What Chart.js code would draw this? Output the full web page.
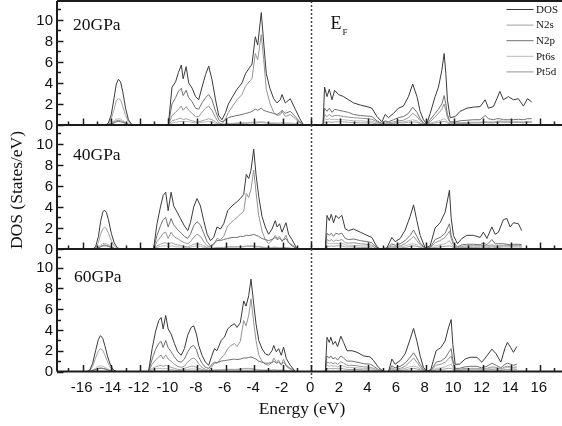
<!DOCTYPE html>
<html>
<head>
<meta charset="utf-8">
<title>PtN2 DOS</title>
<script src="https://cdn.jsdelivr.net/npm/chart.js@4/dist/chart.umd.min.js"></script>
<style>
  body { margin: 0; background: #fff; }
  #wrap { position: relative; width: 562px; height: 426px; }
  #wrap canvas { position: absolute; left: 0; top: 0; }
</style>
</head>
<body>
<div id="wrap">
  <canvas id="p20" width="562" height="426"></canvas>
  <canvas id="p40" width="562" height="426"></canvas>
  <canvas id="p60" width="562" height="426"></canvas>
</div>
<script>
const seriesNames = ['DOS', 'N2s', 'N2p', 'Pt6s', 'Pt5d'];
const seriesColors = ['#3a3a3a', '#a2a2a2', '#707070', '#b8b8b8', '#939393'];
const xTicks = [-16, -14, -12, -10, -8, -6, -4, -2, 0, 2, 4, 6, 8, 10, 12, 14, 16];
const yTicks = [0, 2, 4, 6, 8, 10];

// ---- 20 GPa ----
const e20 = [
  -14.4, -14.2, -14.0, -13.8, -13.65, -13.5, -13.35, -13.2, -13.0, -12.8, -12.6, -12.4,
  -10.1, -10.0, -9.75, -9.5, -9.3, -9.1, -8.97, -8.76, -8.58, -8.34,
  -8.1, -7.88, -7.65, -7.4, -7.18, -6.95, -6.7, -6.48, -6.25, -6.0,
  -5.8, -5.55, -5.2, -4.85, -4.6, -4.3, -4.15, -3.92, -3.75, -3.5,
  -3.33, -3.15, -2.9, -2.63, -2.4, -2.17, -2.05, -1.82, -1.47, -1.12,
  -0.8, -0.54,
  0.82, 0.93, 1.1, 1.26, 1.45, 1.63, 1.91, 2.26, 2.61, 2.96,
  3.43, 3.9, 4.24, 4.6, 4.94, 5.17, 5.4, 5.75, 6.1, 6.45,
  6.8, 7.1, 7.4, 7.62, 7.85, 8.09, 8.32, 8.67, 8.9, 9.14,
  9.3, 9.42, 9.53, 9.72, 10.07, 10.42, 10.9, 11.35, 11.82, 12.17,
  12.4, 12.75, 12.99, 13.2, 13.45, 13.8, 14.15, 14.5, 14.85, 15.13,
  15.43
];
const dos20 = [
  0, 0.2, 1.0, 2.6, 3.9, 4.35, 4.1, 3.2, 1.6, 0.5, 0.1, 0,
  0, 0.1, 3.6, 4.1, 5.0, 5.7, 4.4, 5.55, 4.0, 3.5,
  2.7, 2.4, 3.6, 4.8, 5.6, 4.3, 2.4, 0.9, 0.5, 1.2,
  2.0, 2.6, 3.4, 4.0, 4.9, 5.5, 5.8, 8.4, 7.6, 10.7,
  7.8, 4.9, 3.5, 2.5, 2.1, 2.4, 2.9, 2.1, 2.5, 1.5,
  0.6, 0,
  0, 3.6, 2.7, 3.4, 2.4, 3.3, 2.9, 2.7, 2.4, 2.1,
  1.9, 1.75, 1.6, 0.8, 0.3, 1.0, 0.7, 1.1, 1.6, 1.8,
  2.7, 3.9, 2.7, 1.3, 0.5, 0.1, 1.1, 2.7, 3.6, 5.2,
  6.8, 4.9, 2.4, 0.7, 0.8, 1.3, 1.6, 1.7, 1.75, 2.4,
  1.6, 1.75, 2.5, 3.2, 2.4, 2.7, 2.4, 2.5, 1.8, 2.5,
  2.2
];
const n2s20 = [
  0, 0.1, 0.6, 1.5, 2.3, 2.5, 2.4, 1.8, 0.9, 0.3, 0.05, 0,
  0, 0, 0.4, 0.5, 0.6, 0.65, 0.5, 0.6, 0.5, 0.4,
  0.3, 0.3, 0.4, 0.5, 0.6, 0.5, 0.3, 0.1, 0.05, 0.1,
  0.1, 0.1, 0.15, 0.15, 0.15, 0.2, 0.2, 0.2, 0.2, 0.25,
  0.2, 0.2, 0.15, 0.15, 0.1, 0.1, 0.1, 0.1, 0.1, 0.05,
  0.05, 0,
  0, 0.3, 0.25, 0.3, 0.25, 0.3, 0.3, 0.3, 0.25, 0.25,
  0.2, 0.2, 0.2, 0.1, 0.05, 0.1, 0.1, 0.15, 0.2, 0.2,
  0.25, 0.3, 0.25, 0.15, 0.05, 0, 0.1, 0.2, 0.25, 0.3,
  0.35, 0.3, 0.2, 0.1, 0.1, 0.15, 0.15, 0.2, 0.2, 0.25,
  0.2, 0.2, 0.25, 0.3, 0.25, 0.25, 0.25, 0.25, 0.2, 0.25,
  0.25
];
const n2p20 = [
  0, 0.05, 0.1, 0.2, 0.3, 0.35, 0.3, 0.25, 0.15, 0.05, 0, 0,
  0, 0.05, 2.0, 2.6, 3.2, 3.5, 2.8, 3.3, 2.6, 2.2,
  1.6, 1.5, 2.1, 2.6, 2.9, 2.4, 1.3, 0.5, 0.3, 0.5,
  0.7, 0.8, 0.9, 1.0, 1.1, 1.2, 1.3, 1.5, 1.4, 1.6,
  1.4, 1.3, 1.2, 1.1, 1.0, 1.2, 1.4, 1.1, 1.3, 0.8,
  0.3, 0,
  0, 1.6, 1.3, 1.6, 1.2, 1.5, 1.4, 1.3, 1.2, 1.0,
  0.9, 0.85, 0.8, 0.4, 0.15, 0.4, 0.3, 0.5, 0.7, 0.8,
  1.1, 1.7, 1.2, 0.6, 0.2, 0.05, 0.5, 1.1, 1.5, 2.0,
  2.8, 2.0, 1.0, 0.3, 0.3, 0.4, 0.45, 0.5, 0.5, 0.9,
  0.6, 0.5, 0.6, 0.6, 0.5, 0.5, 0.5, 0.55, 0.5, 0.6,
  0.6
];
const pt6s20 = [
  0, 0.05, 0.2, 0.4, 0.55, 0.6, 0.55, 0.45, 0.25, 0.1, 0, 0,
  0, 0, 0.2, 0.25, 0.3, 0.35, 0.3, 0.35, 0.3, 0.25,
  0.2, 0.2, 0.25, 0.3, 0.35, 0.3, 0.15, 0.05, 0.05, 0.1,
  0.15, 0.15, 0.2, 0.2, 0.25, 0.25, 0.25, 0.3, 0.3, 0.3,
  0.3, 0.25, 0.2, 0.2, 0.2, 0.2, 0.25, 0.2, 0.2, 0.15,
  0.05, 0,
  0, 0.6, 0.5, 0.6, 0.5, 0.55, 0.5, 0.5, 0.45, 0.4,
  0.4, 0.35, 0.35, 0.2, 0.05, 0.15, 0.1, 0.2, 0.25, 0.3,
  0.4, 0.5, 0.4, 0.2, 0.1, 0, 0.15, 0.3, 0.4, 0.5,
  0.6, 0.5, 0.3, 0.1, 0.15, 0.2, 0.2, 0.25, 0.25, 0.3,
  0.3, 0.3, 0.35, 0.4, 0.35, 0.35, 0.3, 0.35, 0.3, 0.35,
  0.35
];
const pt5d20 = [
  0, 0.05, 0.15, 0.3, 0.4, 0.45, 0.4, 0.35, 0.2, 0.05, 0, 0,
  0, 0, 0.9, 1.2, 1.5, 1.8, 1.4, 1.75, 1.4, 1.1,
  0.8, 0.8, 1.2, 1.6, 1.8, 1.4, 0.7, 0.2, 0.1, 0.6,
  1.2, 1.7, 2.4, 2.9, 3.7, 4.2, 4.4, 6.8, 6.2, 8.6,
  6.2, 3.4, 2.1, 1.2, 0.9, 1.0, 1.3, 0.8, 1.0, 0.6,
  0.2, 0,
  0, 1.0, 0.8, 1.0, 0.8, 0.9, 0.9, 0.8, 0.75, 0.7,
  0.65, 0.6, 0.55, 0.3, 0.1, 0.3, 0.2, 0.3, 0.4, 0.45,
  0.7, 1.1, 0.8, 0.4, 0.15, 0, 0.3, 0.8, 1.1, 1.5,
  2.0, 1.4, 0.7, 0.2, 0.2, 0.2, 0.25, 0.25, 0.25, 0.3,
  0.25, 0.25, 0.3, 0.3, 0.3, 0.3, 0.25, 0.3, 0.25, 0.3,
  0.3
];

// ---- 40 GPa ----
const e40 = [
  -15.3, -15.1, -14.9, -14.75, -14.6, -14.48, -14.35, -14.2, -14.0, -13.8, -13.6, -13.4,
  -11.1, -11.03, -10.8, -10.56, -10.37, -10.19, -10.02, -9.81, -9.63, -9.39,
  -9.16, -8.88, -8.65, -8.46, -8.23, -8.0, -7.76, -7.53, -7.29, -7.06,
  -6.83, -6.6, -6.36, -6.13, -5.85, -5.55, -5.38, -5.2, -4.97, -4.73,
  -4.55, -4.38, -4.22, -4.03, -3.87, -3.68, -3.45, -3.22, -2.99, -2.75,
  -2.52, -2.4, -2.22, -2.05, -1.77, -1.59, -1.35, -1.0,
  0.98, 1.1, 1.26, 1.4, 1.56, 1.72, 1.91, 2.14, 2.38, 2.61,
  2.96, 3.43, 3.9, 4.24, 4.6, 4.83, 5.29, 5.64, 5.87, 6.22,
  6.57, 6.92, 7.16, 7.39, 7.62, 7.97, 8.32, 8.67, 9.02, 9.37,
  9.67, 9.79, 9.95, 10.23, 10.54, 10.89, 11.35, 11.82, 12.05, 12.29,
  12.64, 12.87, 13.1, 13.45, 13.69, 13.92, 14.15, 14.5, 14.73
];
const dos40 = [
  0, 0.2, 1.2, 2.6, 3.5, 3.7, 3.5, 2.8, 1.5, 0.6, 0.15, 0,
  0, 0.1, 2.4, 4.0, 5.1, 5.4, 3.65, 5.4, 4.1, 3.5,
  2.9, 2.2, 1.75, 2.5, 4.0, 4.8, 4.1, 2.7, 1.4, 0.8,
  1.1, 2.1, 1.9, 2.4, 3.65, 4.1, 4.3, 4.5, 4.8, 5.2,
  7.1, 6.7, 7.5, 9.5, 7.1, 5.0, 3.1, 2.1, 1.4, 1.9,
  2.7, 2.1, 2.4, 1.6, 2.5, 1.4, 0.9, 0,
  0, 3.2, 2.7, 3.3, 2.5, 3.2, 2.9, 3.2, 1.9, 1.75,
  1.9, 1.6, 1.3, 1.1, 0.2, 0, 0.1, 1.1, 0.7, 1.0,
  1.8, 3.1, 4.2, 2.7, 1.3, 0.1, 0.3, 2.0, 2.5, 3.5,
  5.6, 3.0, 1.3, 0.5, 1.0, 1.3, 1.3, 1.1, 1.6, 1.0,
  2.1, 1.4, 1.6, 2.8, 2.9, 2.1, 2.5, 2.4, 1.75
];
const n2s40 = [
  0, 0.1, 0.6, 1.4, 1.9, 2.05, 1.95, 1.5, 0.8, 0.3, 0.05, 0,
  0, 0, 0.3, 0.45, 0.55, 0.6, 0.45, 0.6, 0.5, 0.4,
  0.35, 0.25, 0.2, 0.3, 0.45, 0.5, 0.45, 0.3, 0.15, 0.05,
  0.1, 0.15, 0.15, 0.15, 0.2, 0.2, 0.2, 0.2, 0.2, 0.2,
  0.25, 0.25, 0.25, 0.25, 0.2, 0.2, 0.15, 0.1, 0.1, 0.1,
  0.15, 0.1, 0.1, 0.1, 0.1, 0.1, 0.05, 0,
  0, 0.3, 0.25, 0.3, 0.25, 0.3, 0.3, 0.3, 0.2, 0.2,
  0.2, 0.15, 0.15, 0.1, 0.05, 0, 0, 0.1, 0.1, 0.1,
  0.15, 0.25, 0.3, 0.25, 0.15, 0, 0.05, 0.15, 0.2, 0.25,
  0.3, 0.25, 0.15, 0.1, 0.1, 0.15, 0.15, 0.1, 0.15, 0.1,
  0.2, 0.15, 0.15, 0.2, 0.2, 0.2, 0.2, 0.2, 0.15
];
const n2p40 = [
  0, 0.02, 0.1, 0.2, 0.3, 0.3, 0.3, 0.25, 0.15, 0.05, 0, 0,
  0, 0.05, 1.3, 2.2, 2.8, 3.0, 2.1, 2.9, 2.3, 1.9,
  1.6, 1.2, 1.0, 1.4, 2.2, 2.6, 2.3, 1.5, 0.7, 0.3,
  0.5, 0.8, 0.8, 0.9, 1.0, 1.1, 1.1, 1.1, 1.2, 1.2,
  1.3, 1.3, 1.3, 1.4, 1.3, 1.2, 1.0, 0.9, 0.8, 0.9,
  1.1, 0.9, 1.0, 0.8, 1.0, 0.6, 0.3, 0,
  0, 1.5, 1.3, 1.5, 1.2, 1.5, 1.4, 1.5, 1.0, 0.9,
  0.95, 0.8, 0.7, 0.6, 0.1, 0, 0.05, 0.5, 0.35, 0.5,
  0.8, 1.3, 1.8, 1.2, 0.6, 0.05, 0.15, 0.9, 1.1, 1.5,
  2.4, 1.3, 0.6, 0.2, 0.4, 0.45, 0.45, 0.4, 0.6, 0.4,
  0.9, 0.5, 0.5, 0.5, 0.45, 0.4, 0.45, 0.45, 0.4
];
const pt6s40 = [
  0, 0.03, 0.2, 0.35, 0.5, 0.55, 0.5, 0.4, 0.25, 0.1, 0, 0,
  0, 0, 0.15, 0.25, 0.3, 0.3, 0.25, 0.3, 0.25, 0.2,
  0.2, 0.15, 0.1, 0.15, 0.25, 0.3, 0.25, 0.15, 0.1, 0.05,
  0.05, 0.1, 0.1, 0.15, 0.2, 0.2, 0.2, 0.2, 0.25, 0.25,
  0.3, 0.3, 0.3, 0.3, 0.25, 0.25, 0.2, 0.15, 0.15, 0.15,
  0.2, 0.15, 0.15, 0.15, 0.15, 0.1, 0.05, 0,
  0, 0.6, 0.5, 0.55, 0.5, 0.55, 0.5, 0.55, 0.4, 0.35,
  0.35, 0.3, 0.3, 0.25, 0.05, 0, 0, 0.2, 0.15, 0.2,
  0.3, 0.45, 0.5, 0.4, 0.2, 0, 0.05, 0.3, 0.4, 0.5,
  0.8, 0.5, 0.2, 0.1, 0.15, 0.2, 0.2, 0.2, 0.25, 0.2,
  0.3, 0.25, 0.25, 0.3, 0.3, 0.3, 0.3, 0.3, 0.25
];
const pt5d40 = [
  0, 0.02, 0.1, 0.25, 0.35, 0.4, 0.35, 0.3, 0.2, 0.05, 0, 0,
  0, 0, 0.7, 1.1, 1.5, 1.6, 1.0, 1.6, 1.2, 1.0,
  0.8, 0.6, 0.5, 0.7, 1.1, 1.4, 1.2, 0.7, 0.3, 0.2,
  0.4, 1.0, 0.9, 1.2, 2.2, 2.6, 2.8, 3.0, 3.3, 3.6,
  5.3, 4.9, 5.7, 7.5, 5.4, 3.2, 1.7, 0.9, 0.5, 0.8,
  1.3, 1.0, 1.2, 0.7, 1.3, 0.6, 0.4, 0,
  0, 0.9, 0.75, 0.9, 0.7, 0.85, 0.8, 0.9, 0.6, 0.55,
  0.6, 0.5, 0.45, 0.35, 0.05, 0, 0.05, 0.3, 0.2, 0.3,
  0.5, 0.9, 1.2, 0.8, 0.4, 0.05, 0.1, 0.6, 0.8, 1.1,
  1.7, 1.0, 0.4, 0.1, 0.25, 0.3, 0.3, 0.3, 0.35, 0.3,
  0.4, 0.3, 0.3, 0.35, 0.35, 0.3, 0.35, 0.35, 0.3
];

// ---- 60 GPa ----
const e60 = [
  -15.7, -15.5, -15.3, -15.1, -14.9, -14.76, -14.6, -14.45, -14.25, -14.05, -13.85, -13.65,
  -11.45, -11.38, -11.14, -10.91, -10.68, -10.51, -10.37, -10.19, -10.02, -9.81,
  -9.58, -9.35, -9.11, -8.88, -8.65, -8.41, -8.23, -8.04, -7.88, -7.65,
  -7.41, -7.18, -6.95, -6.78, -6.6, -6.31, -6.08, -5.85, -5.62, -5.38,
  -5.2, -4.97, -4.73, -4.57, -4.38, -4.22, -4.03, -3.87, -3.68, -3.45,
  -3.22, -2.99, -2.75, -2.63, -2.45, -2.29, -2.1, -1.94, -1.75, -1.47, -1.12,
  0.98, 1.1, 1.26, 1.37, 1.52, 1.68, 1.84, 2.07, 2.26, 2.5,
  2.85, 3.2, 3.66, 4.13, 4.36, 4.7, 5.06, 5.41, 5.64, 5.87,
  6.22, 6.57, 6.88, 7.16, 7.39, 7.62, 7.85, 8.09, 8.37, 8.74,
  9.07, 9.37, 9.6, 9.79, 9.91, 10.07, 10.37, 10.77, 11.12, 11.59,
  11.94, 12.29, 12.64, 12.94, 13.27, 13.57, 13.73, 13.96, 14.15, 14.39
];
const dos60 = [
  0, 0.15, 0.8, 2.0, 3.1, 3.45, 3.2, 2.5, 1.4, 0.6, 0.15, 0,
  0, 0.1, 2.2, 3.8, 4.9, 5.2, 4.1, 5.4, 4.1, 3.6,
  2.7, 1.9, 1.56, 2.2, 3.5, 4.25, 4.4, 3.6, 2.5, 1.56,
  0.9, 0.6, 1.56, 2.2, 2.0, 3.0, 3.3, 4.1, 4.4, 4.6,
  4.25, 4.7, 6.8, 6.3, 7.3, 8.9, 6.5, 4.6, 3.0, 2.2,
  1.7, 1.56, 2.0, 2.5, 1.9, 2.2, 1.56, 2.35, 1.25, 0.6, 0,
  0, 3.3, 2.8, 3.3, 2.6, 2.9, 2.4, 3.4, 2.8, 2.0,
  2.0, 1.85, 1.5, 1.4, 1.05, 0.4, 0, 0, 1.2, 0.7,
  1.05, 1.7, 2.95, 4.15, 2.95, 1.5, 0.4, 0, 0.2, 2.0,
  2.3, 2.95, 4.2, 5.0, 2.6, 0.7, 0.7, 1.2, 1.37, 1.37,
  0.9, 1.5, 2.15, 1.7, 0.9, 2.3, 2.8, 2.3, 1.85, 2.4
];
const n2s60 = [
  0, 0.1, 0.5, 1.3, 2.0, 2.2, 2.05, 1.6, 0.9, 0.35, 0.1, 0,
  0, 0, 0.3, 0.45, 0.55, 0.6, 0.5, 0.6, 0.5, 0.4,
  0.3, 0.2, 0.2, 0.3, 0.4, 0.5, 0.5, 0.4, 0.3, 0.2,
  0.1, 0.05, 0.1, 0.15, 0.15, 0.15, 0.2, 0.2, 0.2, 0.2,
  0.2, 0.2, 0.25, 0.25, 0.25, 0.25, 0.2, 0.2, 0.15, 0.1,
  0.1, 0.1, 0.1, 0.15, 0.1, 0.1, 0.1, 0.1, 0.05, 0.05, 0,
  0, 0.3, 0.25, 0.3, 0.25, 0.3, 0.25, 0.3, 0.25, 0.2,
  0.2, 0.2, 0.15, 0.15, 0.1, 0.05, 0, 0, 0.1, 0.1,
  0.1, 0.15, 0.25, 0.3, 0.25, 0.15, 0.05, 0, 0.02, 0.15,
  0.2, 0.25, 0.3, 0.3, 0.2, 0.1, 0.1, 0.15, 0.15, 0.15,
  0.1, 0.15, 0.2, 0.15, 0.1, 0.2, 0.2, 0.2, 0.15, 0.2
];
const n2p60 = [
  0, 0.02, 0.1, 0.2, 0.3, 0.3, 0.3, 0.25, 0.15, 0.05, 0, 0,
  0, 0.05, 1.2, 2.1, 2.7, 2.9, 2.3, 3.0, 2.3, 1.9,
  1.4, 1.0, 0.9, 1.2, 1.9, 2.4, 2.5, 2.1, 1.4, 0.8,
  0.4, 0.3, 0.7, 0.9, 0.85, 1.0, 1.05, 1.1, 1.15, 1.2,
  1.15, 1.2, 1.3, 1.3, 1.35, 1.4, 1.3, 1.2, 1.0, 0.9,
  0.8, 0.8, 0.85, 1.0, 0.8, 0.9, 0.7, 0.9, 0.6, 0.3, 0,
  0, 1.5, 1.3, 1.5, 1.2, 1.35, 1.1, 1.5, 1.3, 1.0,
  1.0, 0.9, 0.75, 0.7, 0.5, 0.2, 0, 0, 0.55, 0.35,
  0.5, 0.8, 1.3, 1.8, 1.3, 0.7, 0.2, 0, 0.1, 0.9,
  1.0, 1.3, 1.8, 2.2, 1.1, 0.3, 0.3, 0.45, 0.5, 0.5,
  0.35, 0.5, 0.8, 0.6, 0.35, 0.7, 0.8, 0.7, 0.6, 0.7
];
const pt6s60 = [
  0, 0.03, 0.15, 0.3, 0.5, 0.55, 0.5, 0.4, 0.25, 0.1, 0.02, 0,
  0, 0, 0.15, 0.25, 0.3, 0.3, 0.25, 0.3, 0.25, 0.2,
  0.15, 0.1, 0.1, 0.15, 0.2, 0.25, 0.25, 0.2, 0.15, 0.1,
  0.05, 0.05, 0.1, 0.15, 0.15, 0.15, 0.15, 0.2, 0.2, 0.2,
  0.2, 0.25, 0.3, 0.3, 0.3, 0.3, 0.25, 0.2, 0.15, 0.15,
  0.15, 0.15, 0.15, 0.2, 0.15, 0.15, 0.15, 0.15, 0.1, 0.05, 0,
  0, 0.6, 0.5, 0.6, 0.5, 0.55, 0.45, 0.6, 0.5, 0.4,
  0.4, 0.35, 0.3, 0.3, 0.2, 0.1, 0, 0, 0.2, 0.15,
  0.2, 0.3, 0.45, 0.5, 0.45, 0.25, 0.1, 0, 0.03, 0.3,
  0.35, 0.45, 0.6, 0.7, 0.4, 0.15, 0.15, 0.2, 0.25, 0.25,
  0.2, 0.25, 0.35, 0.3, 0.2, 0.35, 0.4, 0.35, 0.3, 0.35
];
const pt5d60 = [
  0, 0.02, 0.1, 0.2, 0.3, 0.35, 0.3, 0.25, 0.15, 0.05, 0, 0,
  0, 0, 0.7, 1.1, 1.4, 1.6, 1.2, 1.6, 1.2, 1.0,
  0.7, 0.5, 0.4, 0.5, 0.9, 1.2, 1.3, 1.1, 0.7, 0.4,
  0.2, 0.1, 0.5, 0.8, 0.8, 1.3, 1.6, 2.2, 2.5, 2.7,
  2.4, 2.9, 4.9, 4.4, 5.4, 7.0, 4.7, 3.0, 1.6, 1.0,
  0.7, 0.6, 0.9, 1.3, 0.9, 1.1, 0.6, 1.2, 0.5, 0.2, 0,
  0, 0.9, 0.8, 0.9, 0.75, 0.85, 0.7, 0.95, 0.8, 0.6,
  0.6, 0.55, 0.45, 0.4, 0.3, 0.1, 0, 0, 0.35, 0.2,
  0.3, 0.5, 0.9, 1.3, 0.9, 0.45, 0.1, 0, 0.05, 0.6,
  0.7, 0.9, 1.2, 1.5, 0.8, 0.2, 0.2, 0.3, 0.3, 0.3,
  0.25, 0.3, 0.45, 0.4, 0.25, 0.45, 0.5, 0.45, 0.4, 0.45
];

const serif = '"Liberation Serif", "Times New Roman", serif';
const sans = '"Liberation Sans", Arial, sans-serif';

// axes, ticks and all the annotation text, drawn over the curves
const framePlugin = {
  id: 'frame',
  afterDraw(chart, args, opts) {
    const { ctx, chartArea: a, scales: { x, y } } = chart;
    ctx.save();

    // Fermi level
    const xf = Math.round(x.getPixelForValue(0)) + 0.5;
    ctx.strokeStyle = '#4a4a4a';
    ctx.lineWidth = 1.5;
    ctx.setLineDash([2, 2]);
    ctx.beginPath();
    ctx.moveTo(xf, a.top);
    ctx.lineTo(xf, a.bottom + (opts.fermiTail || 0));
    ctx.stroke();
    ctx.setLineDash([]);

    // frame
    ctx.strokeStyle = '#1c1c1c';
    ctx.lineWidth = 2;
    ctx.beginPath();
    ctx.moveTo(a.left, a.bottom);
    ctx.lineTo(a.right, a.bottom);
    ctx.moveTo(a.left, a.top);
    ctx.lineTo(a.left, a.bottom);
    if (opts.topLine) {
      ctx.moveTo(a.left, a.top);
      ctx.lineTo(a.right, a.top);
    }
    ctx.stroke();

    // tick marks, pointing inwards
    ctx.lineWidth = 1.5;
    ctx.beginPath();
    for (let v = 0; v <= 11; v++) {
      const py = Math.round(y.getPixelForValue(v)) + 0.5;
      const len = yTicks.includes(v) ? 6.5 : 4;
      ctx.moveTo(a.left, py);
      ctx.lineTo(a.left + len, py);
    }
    for (let e = -17; e <= 17; e++) {
      const px = Math.round(x.getPixelForValue(e)) + 0.5;
      const len = xTicks.includes(e) ? 6.5 : 3.5;
      ctx.moveTo(px, a.bottom);
      ctx.lineTo(px, a.bottom - len);
    }
    ctx.stroke();

    // y tick labels
    ctx.fillStyle = '#111';
    ctx.font = '15px ' + sans;
    ctx.textAlign = 'right';
    ctx.textBaseline = 'middle';
    yTicks.forEach(v => ctx.fillText(String(v), a.left - 4, y.getPixelForValue(v) + 0.5));

    // x tick labels on the lowest panel
    if (opts.xLabels) {
      ctx.textAlign = 'center';
      xTicks.forEach(e => ctx.fillText(String(e), x.getPixelForValue(e) - 1, a.bottom + 16));
      ctx.font = '17.5px ' + serif;
      ctx.textBaseline = 'alphabetic';
      ctx.fillText('Energy (eV)', 302, 413.5);
    }

    // pressure label
    ctx.font = '17.5px ' + serif;
    ctx.textAlign = 'left';
    ctx.textBaseline = 'alphabetic';
    ctx.fillText(opts.label, opts.labelX, opts.labelY);

    if (opts.fermiLabel) {
      ctx.font = '18px ' + serif;
      ctx.fillText('E', xf + 19, 28.5);
      ctx.font = '9px ' + serif;
      ctx.fillText('F', xf + 31, 34.5);
    }

    if (opts.yTitle) {
      ctx.save();
      ctx.translate(17, 190);
      ctx.rotate(-Math.PI / 2);
      ctx.font = '17.5px ' + serif;
      ctx.textAlign = 'center';
      ctx.textBaseline = 'middle';
      ctx.fillText('DOS (States/eV)', 0, 0);
      ctx.restore();
    }

    if (opts.legend) {
      ctx.font = '11px ' + serif;
      ctx.textBaseline = 'middle';
      chart.data.datasets.forEach((ds, i) => {
        const ly = 9.5 + i * 15.6;
        ctx.strokeStyle = ds.borderColor;
        ctx.lineWidth = 1;
        ctx.beginPath();
        ctx.moveTo(506.5, ly);
        ctx.lineTo(533.5, ly);
        ctx.stroke();
        ctx.fillText(ds.label, 536, ly + 0.5);
      });
    }
    ctx.restore();
  }
};

function makePanel(id, energy, series, top, bottom, frameOpts) {
  const datasets = series.map((vals, i) => ({
    label: seriesNames[i],
    data: energy.map((e, j) => ({ x: e, y: vals[j] })),
    borderColor: seriesColors[i],
    borderWidth: 1,
    pointRadius: 0,
    tension: 0,
    fill: false
  }));
  return new Chart(document.getElementById(id), {
    type: 'line',
    data: { datasets },
    options: {
      responsive: false,
      animation: false,
      devicePixelRatio: 1,
      layout: { padding: { left: 57, right: 0, top: top, bottom: 426 - bottom } },
      scales: {
        x: { type: 'linear', min: -17.8, max: 17.55, display: false },
        y: { type: 'linear', min: 0, max: 11.8, display: false }
      },
      plugins: {
        legend: { display: false },
        tooltip: { enabled: false },
        frame: frameOpts
      }
    },
    plugins: [framePlugin]
  });
}

makePanel('p20', e20, [dos20, n2s20, n2p20, pt6s20, pt5d20], 1, 125,
  { label: '20GPa', labelX: 73, labelY: 29.5, topLine: true, fermiLabel: true, legend: true });
makePanel('p40', e40, [dos40, n2s40, n2p40, pt6s40, pt5d40], 125, 249,
  { label: '40GPa', labelX: 73, labelY: 159.5, yTitle: true });
makePanel('p60', e60, [dos60, n2s60, n2p60, pt6s60, pt5d60], 249, 371.5,
  { label: '60GPa', labelX: 74, labelY: 281.5, xLabels: true, fermiTail: 7 });
</script>
</body>
</html>
